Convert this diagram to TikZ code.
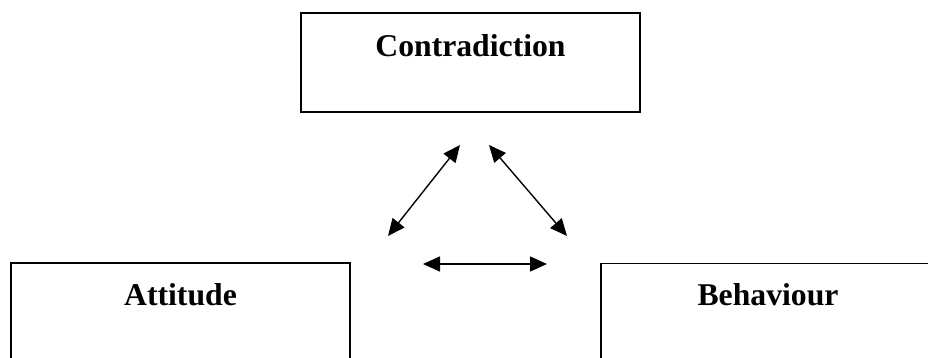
\documentclass[tikz,border=0pt]{standalone}
\usepackage{fontspec}
\setmainfont{Liberation Serif}
\usetikzlibrary{arrows.meta}
\begin{document}
\begin{tikzpicture}[x=1pt,y=-1pt,
  box/.style={draw=black, line width=1.5pt, inner sep=0pt, rectangle,
    font=\fontsize{31.7}{36}\selectfont\bfseries, text height=23pt},
  link/.style={line width=1.4pt, {Triangle[length=17pt,width=15pt]}-{Triangle[length=17pt,width=15pt]}}]
\useasboundingbox (0,0) rectangle (928,357);
\clip (0,0) rectangle (928,357);
\fill[white] (0,0) rectangle (928,357);
\node[box, minimum width=339pt, minimum height=99pt, text depth=36pt] (con) at (470.5,62.5) {Contradiction};
\node[box, minimum width=339pt, minimum height=120pt, text depth=59pt] (att) at (180.5,323) {Attitude};
\node[box, minimum width=334pt, minimum height=120pt, text depth=59pt] (beh) at (768,323.5) {Behaviour};
\coordinate (a1) at (460,145);
\coordinate (a2) at (388,236);
\coordinate (b1) at (489,145);
\coordinate (b2) at (567,236);
\coordinate (c1) at (423,264);
\coordinate (c2) at (547,264);
\draw[link] (a1) -- (a2);
\draw[link] (b1) -- (b2);
\draw[link] (c1) -- (c2);
\end{tikzpicture}
\end{document}
